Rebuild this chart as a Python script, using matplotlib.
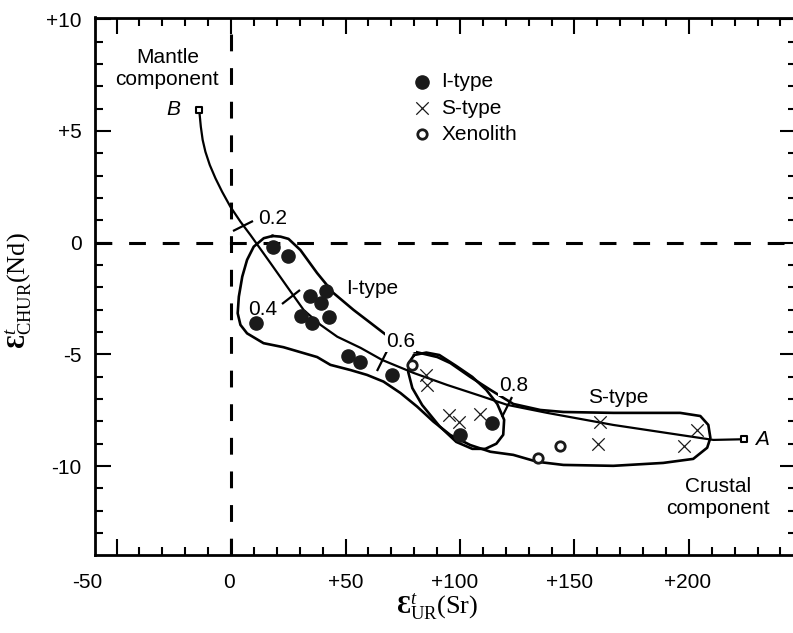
import matplotlib
matplotlib.use("Agg")
import matplotlib.pyplot as plt
from matplotlib.markers import MarkerStyle
from matplotlib.transforms import Affine2D, blended_transform_factory

plt.rcParams['font.family'] = ['Liberation Sans', 'DejaVu Sans']
plt.rcParams['mathtext.fontset'] = 'custom'
plt.rcParams['mathtext.rm'] = 'Liberation Serif'
plt.rcParams['mathtext.it'] = 'Liberation Serif:italic'
plt.rcParams['mathtext.bf'] = 'Liberation Serif:bold'

# ---- samples: epsilon Sr (x) and epsilon Nd (y) ----
i_type_sr = [18.3, 25.0, 34.7, 41.4, 39.4, 30.7, 35.5, 43.0, 11.0, 51.2, 56.2, 70.4, 100.2, 113.8]
i_type_nd = [-0.21, -0.58, -2.37, -2.16, -2.69, -3.28, -3.61, -3.31, -3.61, -5.06, -5.35, -5.92, -8.61, -8.06]

s_type_sr = [85.3, 85.4, 95.1, 99.5, 108.6, 161.0, 160.2, 203.6, 198.0]
s_type_nd = [-5.92, -6.36, -7.71, -8.01, -7.68, -8.04, -9.02, -8.38, -9.09]

xeno_sr = [79.1, 143.9, 134.3]
xeno_nd = [-5.47, -9.09, -9.62]

# ---- end-members: crustal (A) and mantle (B) ----
end_names = ['A', 'B']
end_sr = [223.9, -13.9]
end_nd = [-8.8, 5.94]

# ---- mixing curve between B and A ----
mix_sr = [-13.9, -13.7, -13.2, -12.4, -11.2, -9.3, -6.8, -3.9, -0.3, 4.1, 8.5, 17.2,
          24.5, 31.7, 39.1, 46.4, 56.6, 66.0, 79.7, 94.4, 109.0, 120.6, 138.1, 167.0,
          196.3, 210.7, 223.9]
mix_nd = [5.94, 5.72, 5.19, 4.60, 4.07, 3.48, 2.88, 2.28, 1.61, 0.94, 0.34, -0.91,
          -1.97, -3.01, -3.68, -4.21, -4.71, -5.25, -5.83, -6.37, -6.86, -7.26, -7.62, -8.16,
          -8.61, -8.83, -8.8]

# mixing proportions marked along the curve
mix_frac = ['0.2', '0.4', '0.6', '0.8']
mix_tick_sr = [5.3, 26.3, 66.0, 120.7]
mix_tick_nd = [0.73, -2.44, -5.29, -7.34]
mix_label_sr = [12.0, 13.7, 74.0, 123.3]
mix_label_nd = [1.06, -3.01, -4.44, -6.41]

# ---- outline of the granite field (I-type + S-type) ----
field_sr = [18.1, 21.6, 25.1, 30.3, 37.6, 44.7, 53.5, 60.9, 66.6, 73.1, 80.5, 90.1,
            95.8, 104.5, 113.3, 123.3, 135.1, 145.2, 167.0, 196.2, 205.0, 208.5, 209.4,
            208.0, 201.9, 188.8, 167.0, 145.2, 133.8, 123.3, 113.3, 104.5, 95.8, 88.4,
            81.3, 74.0, 66.6, 59.4, 52.1, 43.4, 37.6, 22.9, 14.2, 7.0, 4.1, 2.9, 3.4,
            4.9, 7.0, 9.9, 14.3, 18.1]
field_nd = [0.30, 0.27, 0.17, -0.33, -1.36, -2.25, -3.01, -3.59, -4.04, -4.53, -4.89, -5.12,
            -5.39, -6.01, -6.59, -7.22, -7.49, -7.58, -7.62, -7.62, -7.76, -8.16, -8.74,
            -9.18, -9.68, -9.86, -9.99, -9.95, -9.81, -9.50, -9.36, -9.06, -8.61, -8.01,
            -7.34, -6.73, -6.22, -5.92, -5.70, -5.47, -5.12, -4.68, -4.50, -4.06, -3.68, -3.16, -2.42,
            -1.52, -0.77, -0.18, 0.20, 0.30]

# ---- outline of the transitional group ----
trans_sr = [80.0, 85.3, 91.0, 98.4, 105.4, 111.5, 116.3, 119.3, 118.9, 115.9, 111.1,
            105.4, 98.4, 91.0, 83.5, 79.2, 77.4, 77.9, 80.0]
trans_nd = [-5.03, -4.92, -5.03, -5.52, -6.01, -6.59, -7.22, -7.93, -8.60, -9.00, -9.23,
            -9.23, -8.92, -8.21, -7.27, -6.51, -5.79, -5.34, -5.03]

# ---- axis ticks ----
x_major = [-50, 0, 50, 100, 150, 200]
x_major_labels = ['-50', '0', '+50', '+100', '+150', '+200']
y_major = [-10, -5, 0, 5, 10]
y_major_labels = ['-10', '-5', '0', '+5', '+10']

W, H = 793, 633
fig = plt.figure(figsize=(W / 100, H / 100), dpi=100)
ax_l, ax_r, ax_t, ax_b = 95.3, 796.0, 17.5, 555.4
ax = fig.add_axes([ax_l / W, 1 - ax_b / H, (ax_r - ax_l) / W, (ax_b - ax_t) / H])
ax.set_xlim(-59.3, 246.8)
ax.set_ylim(-14.0, 10.08)

for sp in ax.spines.values():
    sp.set_linewidth(2.0)

# ticks on all four sides, pointing inward
ax.set_xticks(x_major)
ax.set_xticks(range(-50, 250, 10), minor=True)
ax.set_yticks(y_major)
ax.set_yticks(range(-13, 10), minor=True)
ax.tick_params(which='both', direction='in', top=True, right=True, width=1.5)
ax.tick_params(which='major', length=11.5)
ax.tick_params(which='minor', length=6.0)
ax.set_xticklabels([])
ax.set_yticklabels(y_major_labels, fontsize=15)
ax.tick_params(axis='y', pad=10)

xlab_tr = blended_transform_factory(ax.transData, ax.transAxes)
x_label_shift = [-29, -2, 0, -5, -5, -1]
for v, lab, dx in zip(x_major, x_major_labels, x_label_shift):
    ax.annotate(lab, xy=(v, 0), xycoords=xlab_tr, xytext=(dx * 0.72, -13),
                textcoords='offset points', ha='center', va='top', fontsize=15,
                annotation_clip=False)

# reference lines at epsilon = 0
ax.axhline(0, color='black', lw=2.2, dashes=(5.5, 5.5), zorder=1)
ax.axvline(0, color='black', lw=2.2, dashes=(5.5, 5.5), zorder=1)

# field outlines
ax.plot(field_sr, field_nd, color='black', lw=1.9, zorder=2)
ax.plot(trans_sr, trans_nd, color='black', lw=1.9, zorder=2)

# mixing curve with proportion marks
ax.plot(mix_sr, mix_nd, color='black', lw=1.6, zorder=3)
tick_angles = [28, 39, 66, 62]
for sx, sy, ang in zip(mix_tick_sr, mix_tick_nd, tick_angles):
    ax.plot([sx], [sy], linestyle='none', color='black', markersize=16, markeredgewidth=1.6,
            marker=MarkerStyle('_', transform=Affine2D().rotate_deg(ang)), zorder=3)
for lab, lx, ly in zip(mix_frac, mix_label_sr, mix_label_nd):
    ha = 'left' if lab == '0.2' else 'center'
    ax.text(lx, ly, lab, fontsize=15, ha=ha, va='center', zorder=4,
            bbox=dict(fc='white', ec='none', pad=0.6))

# samples
ax.scatter(i_type_sr, i_type_nd, s=90, color='#1a1a1a', zorder=5, label='I-type')
ax.scatter(s_type_sr, s_type_nd, s=80, marker='x', color='#1a1a1a', linewidths=0.9,
           zorder=5, label='S-type')
ax.scatter(xeno_sr, xeno_nd, s=46, facecolors='white', edgecolors='#1a1a1a',
           linewidths=2.0, zorder=5, label='Xenolith')

# end-members
ax.scatter(end_sr, end_nd, s=20, marker='s', facecolors='white', edgecolors='black',
           linewidths=1.5, zorder=6)
ax.text(end_sr[0] + 5.0, end_nd[0], end_names[0], fontsize=15, style='italic',
        ha='left', va='center')
ax.text(end_sr[1] - 8.2, end_nd[1], end_names[1], fontsize=15, style='italic',
        ha='right', va='center')

ax.text(-27.8, 7.8, 'Mantle\ncomponent', fontsize=15, ha='center', va='center',
        linespacing=1.2)
ax.text(212.9, -11.39, 'Crustal\ncomponent', fontsize=15, ha='center', va='center',
        linespacing=1.2)
ax.text(50.4, -2.07, 'I-type', fontsize=15, ha='left', va='center')
ax.text(169.2, -6.95, 'S-type', fontsize=15, ha='center', va='center')

ax.legend(loc='upper left', bbox_to_anchor=(0.454, 0.898), frameon=False, fontsize=15,
          handlelength=0.8, handletextpad=0.53, labelspacing=0.35, borderpad=0,
          borderaxespad=0, scatterpoints=1)

fig.text(19 / W, 1 - 291 / H, r'$\mathbf{Ɛ}^{\mathit{t}}_{\mathrm{CHUR}}\mathrm{(Nd)}$',
         fontsize=19, rotation=90, ha='center', va='center')
fig.text(437 / W, 1 - 607 / H, r'$\mathbf{Ɛ}^{\mathit{t}}_{\mathrm{UR}}\mathrm{(Sr)}$',
         fontsize=19, ha='center', va='center')

fig.savefig('out.png', dpi=100)
